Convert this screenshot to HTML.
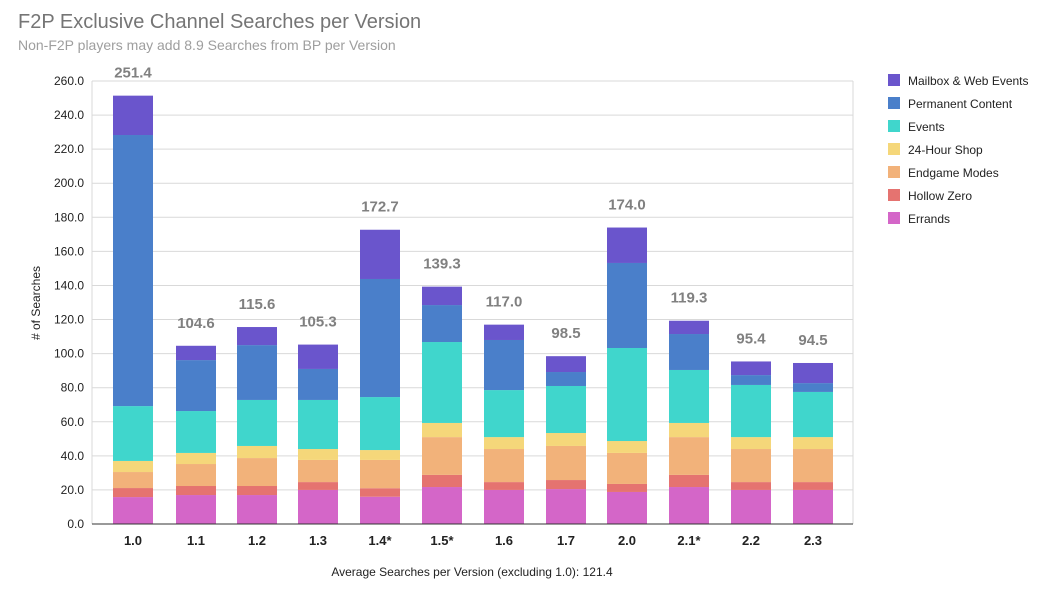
<!DOCTYPE html>
<html><head><meta charset="utf-8"><style>
body{margin:0;background:#fff;font-family:"Liberation Sans",Arial,sans-serif}
</style></head><body>
<svg id="c" width="1050" height="591" xmlns="http://www.w3.org/2000/svg" font-family="Liberation Sans, Arial, sans-serif">
<rect width="1050" height="591" fill="#fff"/>
<text x="18" y="28" font-size="20" fill="#757575">F2P Exclusive Channel Searches per Version</text>
<text x="18" y="50" font-size="14" fill="#9e9e9e">Non-F2P players may add 8.9 Searches from BP per Version</text>
<text x="40" y="303" font-size="12" fill="#222" transform="rotate(-90 40 303)" text-anchor="middle"># of Searches</text>
<text x="472" y="576" font-size="12" fill="#222" text-anchor="middle">Average Searches per Version (excluding 1.0): 121.4</text>
<g id="g"></g>
</svg>
<script>
const g=document.getElementById('g');
const NS='http://www.w3.org/2000/svg';
function el(t,a,txt){const e=document.createElementNS(NS,t);for(const k in a)e.setAttribute(k,a[k]);if(txt!==undefined)e.textContent=txt;g.appendChild(e);return e;}
const y0=524,py=443/260,x0=92,x1=853;
for(let v=0;v<=260;v+=20){const y=y0-v*py;el('line',{x1:x0,x2:x1,y1:y,y2:y,stroke:v?'#d9d9d9':'#333','stroke-width':1});
el('text',{x:84,y:y+4,'font-size':12,fill:'#222','text-anchor':'end'},v.toFixed(1));}
el('line',{x1:x0,x2:x0,y1:y0,y2:81,stroke:'#d9d9d9'});el('line',{x1:x1,x2:x1,y1:y0,y2:81,stroke:'#d9d9d9'});
const cols=['#d466c8','#e57370','#f2b27a','#f5d77a','#40d6cc','#4a7fca','#6a55cc'];
const labs=['1.0','1.1','1.2','1.3','1.4*','1.5*','1.6','1.7','2.0','2.1*','2.2','2.3'];
const cx=[133,196,257,318,380,442,504,566,627,689,751,813];
const d=[[15.8,21.1,30.5,37,69.2,228.3,251.4],[17,22.3,35.2,41.7,66.3,96.2,104.6],[17,22.3,38.7,45.8,72.8,105,115.6],
[20,24.6,37.6,44,72.8,91,105.3],[16,21,37.6,43.4,74.5,143.8,172.7],[21.7,28.8,51,59.3,106.8,128.5,139.3],
[20,24.6,44,51,78.6,108,117],[20.5,25.8,45.8,53.4,81,89.2,98.5],[18.8,23.5,41.7,48.7,103.3,153.2,174],
[21.7,28.8,51,59.3,90.4,111.5,119.3],[20,24.6,44,51,81.6,87.4,95.4],[20,24.6,44,51,77.5,82.7,94.5]];
d.forEach((b,i)=>{let prev=0;b.forEach((v,j)=>{const ya=y0-v*py,yb=y0-prev*py;el('rect',{x:cx[i]-20,y:ya,width:40,height:yb-ya,fill:cols[j]});prev=v;});
el('text',{x:cx[i],y:y0-b[6]*py-18,'font-size':15,'font-weight':'bold',fill:'#808080','text-anchor':'middle'},b[6].toFixed(1));
el('text',{x:cx[i],y:545,'font-size':13,'font-weight':'bold',fill:'#222','text-anchor':'middle'},labs[i]);});
el('line',{x1:x0,x2:x1,y1:y0,y2:y0,stroke:'#333'});
const ln=['Mailbox & Web Events','Permanent Content','Events','24-Hour Shop','Endgame Modes','Hollow Zero','Errands'];
ln.forEach((t,i)=>{const y=74+i*23;el('rect',{x:888,y:y,width:12,height:12,fill:cols[6-i]});el('text',{x:908,y:y+11,'font-size':12,fill:'#222'},t);});
</script>
</body></html>
